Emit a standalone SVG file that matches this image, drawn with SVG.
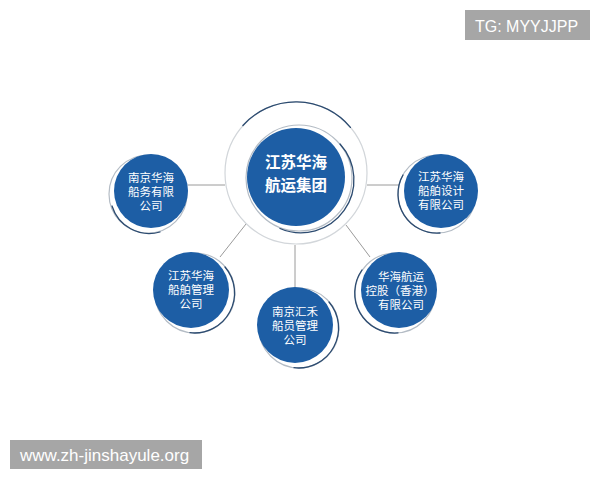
<svg xmlns="http://www.w3.org/2000/svg" width="600" height="480" viewBox="0 0 600 480">
<defs>
<style>
.blue{fill:#1d5ea5}
.cres{fill:#ffffff;stroke:#b4bcc5;stroke-width:1.2}
.dark{fill:none;stroke:#2c4b70;stroke-width:1.3;stroke-linecap:round}
.t{font-family:"Liberation Sans","Noto Sans CJK SC",sans-serif;font-size:11.5px;fill:#ffffff;text-anchor:middle}
.tc{font-family:"Liberation Sans","Noto Sans CJK SC",sans-serif;font-size:15.5px;font-weight:bold;fill:#ffffff;text-anchor:middle}
.conn line{stroke:#9a9a9a;stroke-width:1}
.wm{fill:#a6a6a6}
.wmt{font-family:"Liberation Sans",Arial,sans-serif;font-size:16px;fill:#ffffff}
</style>
</defs>
<rect width="600" height="480" fill="#ffffff"/>
<g id="connectors" class="conn">
<line x1="188" y1="185" x2="225" y2="185"/>
<line x1="367" y1="185" x2="405" y2="185"/>
<line x1="220" y1="257" x2="246" y2="224"/>
<line x1="295" y1="245" x2="295" y2="287"/>
<line x1="346" y1="225" x2="370" y2="257"/>
</g>
<g id="center">
<circle cx="296" cy="173" r="71" fill="#ffffff" stroke="#d2d6da" stroke-width="1.2"/>
<path class="dark" d="M242.9 125.5 A71 71 0 0 1 350.4 127.4"/>
<circle cx="299" cy="178" r="53" class="cres"/>
<path class="dark" d="M340 144 A53 53 0 0 1 280 228.5"/>
<circle cx="296" cy="177" r="49" class="blue"/>
<text class="tc" x="296" y="168">江苏华海<tspan x="296" dy="23">航运集团</tspan></text>
</g>
<g id="n1">
<circle cx="148" cy="194" r="39" class="cres"/>
<path class="dark" d="M112 206 A39 39 0 0 0 160 232"/>
<circle cx="151" cy="191" r="37" class="blue"/>
<text class="t" x="151" y="182">南京华海<tspan x="151" dy="14">船务有限</tspan><tspan x="151" dy="14">公司</tspan></text>
</g>
<g id="n2">
<circle cx="437" cy="194" r="39" class="cres"/>
<path class="dark" d="M403 175 A39 39 0 0 0 440 233"/>
<circle cx="441" cy="191" r="37" class="blue"/>
<text class="t" x="441" y="181">江苏华海<tspan x="441" dy="14">船舶设计</tspan><tspan x="441" dy="14">有限公司</tspan></text>
</g>
<g id="n3">
<circle cx="195" cy="293" r="40" class="cres"/>
<path class="dark" d="M225 267 A40 40 0 0 1 190 332.7"/>
<circle cx="191" cy="290" r="38" class="blue"/>
<text class="t" x="191" y="280">江苏华海<tspan x="191" dy="14">船舶管理</tspan><tspan x="191" dy="14">公司</tspan></text>
</g>
<g id="n4">
<circle cx="299" cy="328" r="40" class="cres"/>
<path class="dark" d="M329 302 A40 40 0 0 1 294 367.7"/>
<circle cx="295" cy="325" r="38" class="blue"/>
<text class="t" x="295" y="316">南京汇禾<tspan x="295" dy="14">船员管理</tspan><tspan x="295" dy="14">公司</tspan></text>
</g>
<g id="n5">
<circle cx="395" cy="293" r="40" class="cres"/>
<path class="dark" d="M362 270 A40 40 0 0 0 398 332.9"/>
<circle cx="399" cy="290" r="38" class="blue"/>
<text class="t" x="401" y="281">华海航运<tspan x="400" dy="14">控股（香港）</tspan><tspan x="401" dy="14">有限公司</tspan></text>
</g>
<g id="watermarks">
<rect class="wm" x="465" y="10" width="125" height="30"/>
<text class="wmt" x="475" y="32">TG: MYYJJPP</text>
<rect class="wm" x="10" y="440" width="192" height="29"/>
<text class="wmt" x="20" y="461" style="font-size:17px">www.zh-jinshayule.org</text>
</g>
</svg>
